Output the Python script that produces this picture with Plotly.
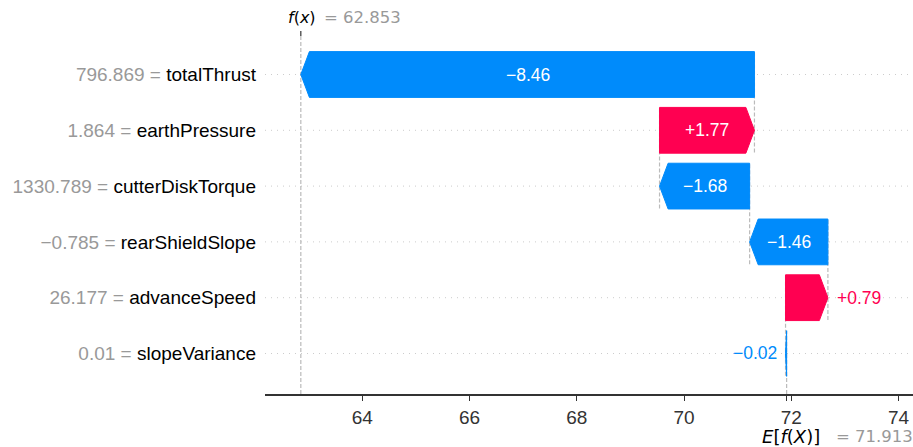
import plotly.graph_objects as go

# Waterfall of feature contributions for a single prediction
features = ["totalThrust", "earthPressure", "cutterDiskTorque",
            "rearShieldSlope", "advanceSpeed", "slopeVariance"]
feature_values = ["796.869", "1.864", "1330.789", "\u22120.785", "26.177", "0.01"]
contributions = [-8.46, 1.77, -1.68, -1.46, 0.79, -0.02]
base_value = 71.913
x_ticks = [64, 66, 68, 70, 72, 74]

BLUE = "#008bfb"
RED = "#ff0051"
GRAY_TXT = "#999999"
LINE_GRAY = "#bbbbbb"

W, H = 913, 447
M_L, M_R, M_T, M_B = 265, 0, 36, 53
X_RANGE = [62.185, 74.27]
Y_RANGE = [-0.726, 5.69]
px_per_unit = (W - M_L - M_R) / (X_RANGE[1] - X_RANGE[0])

n = len(features)
rows = [n - 1 - i for i in range(n)]          # top feature drawn on the highest row
fx = base_value + sum(contributions)

# cumulative start / end of each bar, walking up from the base value
starts, ends = [0.0] * n, [0.0] * n
cur = base_value
for i in reversed(range(n)):
    starts[i] = cur
    cur = cur + contributions[i]
    ends[i] = cur

half_h = 0.41
head = 0.16  # arrow head length in data units

def fmt(v):
    s = f"{v:+.2f}"
    return s.replace("-", "\u2212")

fig = go.Figure()
shapes = []
annotations = []

# dotted row guides
for r in rows:
    shapes.append(dict(type="line", xref="paper", x0=0, x1=1, yref="y", y0=r, y1=r,
                       line=dict(color="#cccccc", width=1, dash="1px,5px"), layer="below"))

# dashed connectors between consecutive bars
for i in range(n):
    r = rows[i]
    y0 = max(r - 1.4, Y_RANGE[0])
    shapes.append(dict(type="line", xref="x", yref="y", x0=starts[i], x1=starts[i],
                       y0=y0, y1=r + 0.4,
                       line=dict(color=LINE_GRAY, width=1.2, dash="4px,2px"), layer="below"))

# f(x) reference line
shapes.append(dict(type="line", xref="x", yref="paper", x0=fx, x1=fx, y0=0, y1=1,
                   line=dict(color=LINE_GRAY, width=1.2, dash="4px,2px"), layer="below"))
# top tick at f(x)
shapes.append(dict(type="line", xref="x", yref="paper", x0=fx, x1=fx,
                   y0=1, y1=1 + 5 / (H - M_T - M_B),
                   line=dict(color="#333333", width=1.2)))

for i in range(n):
    v = contributions[i]
    s, e, r = starts[i], ends[i], rows[i]
    sign = 1 if v > 0 else -1
    hl = min(abs(v), head)
    body_end = e - sign * hl
    xs = [s, body_end, e, body_end, s, s]
    ys = [r - half_h, r - half_h, r, r + half_h, r + half_h, r - half_h]
    color = RED if v > 0 else BLUE
    fig.add_trace(go.Scatter(x=xs, y=ys, mode="lines", fill="toself", fillcolor=color,
                             line=dict(color=color, width=1), hoverinfo="skip",
                             showlegend=False))

    label = fmt(v)
    text_px = len(label) * 0.556 * 17.5
    lbl_font = "Liberation Sans, Arial, sans-serif"
    if abs(v) * px_per_unit > text_px:
        annotations.append(dict(x=(s + e) / 2, y=r, xref="x", yref="y", text=label,
                                showarrow=False,
                                font=dict(size=17.5, color="white", family=lbl_font)))
    else:
        off = 7 / px_per_unit
        if v > 0:
            annotations.append(dict(x=e + off, y=r, xref="x", yref="y", text=label,
                                    xanchor="left", showarrow=False,
                                    font=dict(size=17.5, color=RED, family=lbl_font)))
        else:
            annotations.append(dict(x=e - off, y=r, xref="x", yref="y", text=label,
                                    xanchor="right", showarrow=False,
                                    font=dict(size=17.5, color=BLUE, family=lbl_font)))

math_font = "DejaVu Sans, sans-serif"
# f(x) label above the plot
annotations.append(dict(x=fx, y=1, xref="x", yref="paper", xanchor="left", yanchor="middle",
                        xshift=-15, yshift=19, showarrow=False,
                        text="<i>f</i>(<i>x</i>)",
                        font=dict(size=16, color="black", family=math_font)))
annotations.append(dict(x=fx, y=1, xref="x", yref="paper", xanchor="left", yanchor="middle",
                        xshift=21, yshift=19, showarrow=False,
                        text=f"= {fx:.3f}",
                        font=dict(size=16.5, color=GRAY_TXT, family=math_font)))
# E[f(X)] label below the axis
annotations.append(dict(x=base_value, y=0, xref="x", yref="paper", xanchor="left",
                        yanchor="middle", xshift=-27, yshift=-42, showarrow=False,
                        text="<i>E</i>[<i>f</i>(<i>X</i>)]",
                        font=dict(size=18, color="black", family=math_font)))
annotations.append(dict(x=base_value, y=0, xref="x", yref="paper", xanchor="left",
                        yanchor="middle", xshift=47, yshift=-42, showarrow=False,
                        text=f"= {base_value:.3f}",
                        font=dict(size=16.5, color=GRAY_TXT, family=math_font)))

ticktext = [f'<span style="color:{GRAY_TXT}">{fv} = </span>{name}'
            for fv, name in zip(feature_values, features)]

# bottom ticks: regular values plus an unlabelled mark at the base value
xt_vals = x_ticks + [base_value]
xt_text = [str(t) for t in x_ticks] + [""]

fig.update_layout(
    width=W, height=H,
    margin=dict(l=M_L, r=M_R, t=M_T, b=M_B),
    paper_bgcolor="white", plot_bgcolor="white",
    font=dict(family="Liberation Sans, Arial, sans-serif", color="black"),
    shapes=shapes, annotations=annotations,
    xaxis=dict(range=X_RANGE, tickvals=xt_vals, ticktext=xt_text,
               showgrid=False, zeroline=False, showline=True, linecolor="#333333",
               linewidth=1.5, ticks="outside", ticklen=5, tickcolor="#333333",
               tickwidth=1.2, tickfont=dict(size=19, color="#333333")),
    yaxis=dict(range=Y_RANGE, tickvals=rows, ticktext=ticktext, showgrid=False,
               zeroline=False, showline=False, ticks="", ticklabelstandoff=8,
               tickfont=dict(size=19, color="black")),
)

fig.write_html("out.html")
